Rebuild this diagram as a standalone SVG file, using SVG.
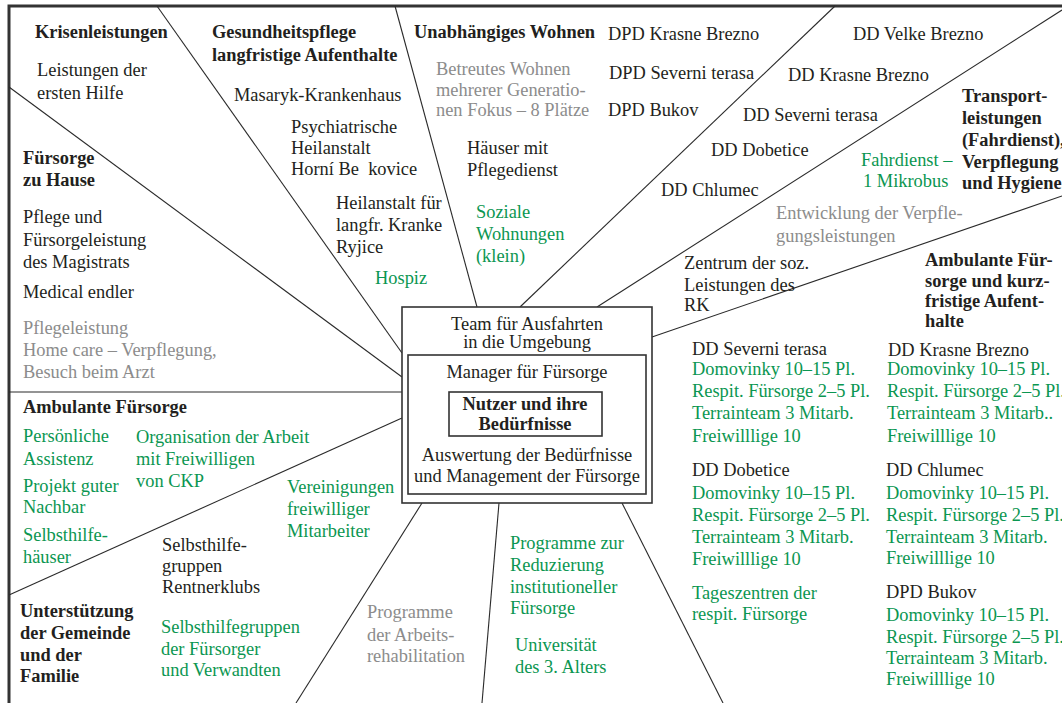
<svg xmlns="http://www.w3.org/2000/svg" width="1062" height="703" viewBox="0 0 1062 703">
  <style>
    text { font-family: "Liberation Serif", "Times New Roman", serif; font-size: 18.4px; fill: #231f20; }
    .b { font-weight: bold; }
    .g { fill: #0b9651; }
    .s { fill: #8c8c8c; }
    .c { text-anchor: middle; }
    .ln { stroke: #2a2a2a; stroke-width: 1.1; fill: none; }
    .frame { stroke: #333; stroke-width: 3; fill: none; }
    .box { stroke: #333; stroke-width: 1.6; fill: #fff; }
  </style>

  <rect width="1062" height="703" fill="#fff"/>

  <!-- outer frame: top and left edges -->
  <path class="frame" d="M9,703 V6 H1062"/>

  <!-- radial dividers between the service sectors -->
  <g id="connectors">
    <line class="ln" x1="157" y1="6" x2="402" y2="353"/>
    <line class="ln" x1="9" y1="87" x2="402" y2="377"/>
    <line class="ln" x1="9" y1="392" x2="402" y2="392"/>
    <line class="ln" x1="402" y1="418" x2="9" y2="595"/>
    <line class="ln" x1="422" y1="503" x2="296" y2="703"/>
    <line class="ln" x1="499" y1="503" x2="482" y2="703"/>
    <line class="ln" x1="622" y1="503" x2="723" y2="703"/>
    <line class="ln" x1="652" y1="337" x2="1062" y2="196"/>
    <line class="ln" x1="597" y1="307" x2="1062" y2="10"/>
    <line class="ln" x1="520" y1="307" x2="835" y2="6"/>
    <line class="ln" x1="477" y1="307" x2="395" y2="6"/>
  </g>

  <!-- central core -->
  <g id="core">
    <rect class="box" x="402" y="307" width="250" height="196"/>
    <rect class="box" x="408" y="355" width="238" height="139"/>
    <rect class="box" x="449" y="392" width="153" height="44"/>
    <text class="c"><tspan x="527" y="330">Team für Ausfahrten</tspan><tspan x="527" y="348">in die Umgebung</tspan></text>
    <text class="c" x="527" y="378">Manager für Fürsorge</text>
    <text class="b c"><tspan x="525" y="410">Nutzer und ihre</tspan><tspan x="525" y="430">Bedürfnisse</tspan></text>
    <text class="c"><tspan x="527" y="461">Auswertung der Bedürfnisse</tspan><tspan x="527" y="482">und Management der Fürsorge</tspan></text>
  </g>

  <g id="krisenleistungen">
    <text class="b" x="35" y="38">Krisenleistungen</text>
    <text><tspan x="37" y="76">Leistungen der</tspan><tspan x="37" y="99">ersten Hilfe</tspan></text>
  </g>

  <g id="gesundheitspflege">
    <text class="b"><tspan x="212" y="38">Gesundheitspflege</tspan><tspan x="212" y="61">langfristige Aufenthalte</tspan></text>
    <text x="234" y="101">Masaryk-Krankenhaus</text>
    <text><tspan x="291" y="133">Psychiatrische</tspan><tspan x="291" y="154">Heilanstalt</tspan><tspan x="291" y="175">Horní Be&#160;&#160;kovice</tspan></text>
    <text><tspan x="336" y="209">Heilanstalt für</tspan><tspan x="336" y="231">langfr. Kranke</tspan><tspan x="336" y="253">Ryjice</tspan></text>
    <text class="g" x="375" y="284">Hospiz</text>
  </g>

  <g id="wohnen">
    <text class="b" x="414" y="38">Unabhängiges Wohnen</text>
    <text class="s"><tspan x="436" y="75">Betreutes Wohnen</tspan><tspan x="436" y="96">mehrerer Generatio-</tspan><tspan x="436" y="116">nen Fokus – 8 Plätze</tspan></text>
    <text><tspan x="467" y="154">Häuser mit</tspan><tspan x="467" y="176">Pflegedienst</tspan></text>
    <text class="g"><tspan x="476" y="218">Soziale</tspan><tspan x="476" y="240">Wohnungen</tspan><tspan x="476" y="262">(klein)</tspan></text>
  </g>

  <g id="dpd">
    <text x="608" y="40">DPD Krasne Brezno</text>
    <text x="609" y="79">DPD Severni terasa</text>
    <text x="608" y="116">DPD Bukov</text>
  </g>

  <g id="dd">
    <text x="853" y="40">DD Velke Brezno</text>
    <text x="788" y="81">DD Krasne Brezno</text>
    <text x="743" y="121">DD Severni terasa</text>
    <text x="711" y="156">DD Dobetice</text>
    <text x="661" y="196">DD Chlumec</text>
  </g>

  <g id="transport">
    <text class="b"><tspan x="962" y="102">Transport-</tspan><tspan x="962" y="124">leistungen</tspan><tspan x="962" y="146">(Fahrdienst),</tspan><tspan x="962" y="168">Verpflegung</tspan><tspan x="962" y="189">und Hygiene</tspan></text>
    <text class="g"><tspan x="861" y="166">Fahrdienst –</tspan><tspan x="863" y="187">1 Mikrobus</tspan></text>
    <text class="s"><tspan x="776" y="219">Entwicklung der Verpfle-</tspan><tspan x="776" y="242">gungsleistungen</tspan></text>
    <text><tspan x="684" y="269">Zentrum der soz.</tspan><tspan x="684" y="291">Leistungen des</tspan><tspan x="684" y="311">RK</tspan></text>
  </g>

  <g id="fuersorge-zu-hause">
    <text class="b"><tspan x="23" y="164">Fürsorge</tspan><tspan x="23" y="186">zu Hause</tspan></text>
    <text><tspan x="23" y="223">Pflege und</tspan><tspan x="23" y="246">Fürsorgeleistung</tspan><tspan x="23" y="268">des Magistrats</tspan></text>
    <text x="23" y="298">Medical endler</text>
    <text class="s"><tspan x="23" y="334">Pflegeleistung</tspan><tspan x="23" y="356">Home care – Verpflegung,</tspan><tspan x="23" y="378">Besuch beim Arzt</tspan></text>
  </g>

  <g id="ambulante-fuersorge">
    <text class="b" x="23" y="413">Ambulante Fürsorge</text>
    <text class="g"><tspan x="23" y="442">Persönliche</tspan><tspan x="23" y="465">Assistenz</tspan></text>
    <text class="g"><tspan x="23" y="492">Projekt guter</tspan><tspan x="23" y="513">Nachbar</tspan></text>
    <text class="g"><tspan x="23" y="541">Selbsthilfe-</tspan><tspan x="23" y="563">häuser</tspan></text>
    <text class="g"><tspan x="136" y="443">Organisation der Arbeit</tspan><tspan x="136" y="465">mit Freiwilligen</tspan><tspan x="136" y="487">von CKP</tspan></text>
    <text class="g"><tspan x="287" y="493">Vereinigungen</tspan><tspan x="287" y="515">freiwilliger</tspan><tspan x="287" y="537">Mitarbeiter</tspan></text>
  </g>

  <g id="gemeinde">
    <text class="b"><tspan x="20" y="617">Unterstützung</tspan><tspan x="20" y="639">der Gemeinde</tspan><tspan x="20" y="661">und der</tspan><tspan x="20" y="682">Familie</tspan></text>
    <text><tspan x="162" y="551">Selbsthilfe-</tspan><tspan x="162" y="572">gruppen</tspan><tspan x="162" y="593">Rentnerklubs</tspan></text>
    <text class="g"><tspan x="161" y="633">Selbsthilfegruppen</tspan><tspan x="161" y="655">der Fürsorger</tspan><tspan x="161" y="676">und Verwandten</tspan></text>
  </g>

  <g id="arbeitsrehabilitation">
    <text class="s"><tspan x="367" y="618">Programme</tspan><tspan x="367" y="641">der Arbeits-</tspan><tspan x="367" y="662">rehabilitation</tspan></text>
  </g>

  <g id="programme">
    <text class="g"><tspan x="510" y="549">Programme zur</tspan><tspan x="510" y="571">Reduzierung</tspan><tspan x="510" y="593">institutioneller</tspan><tspan x="510" y="614">Fürsorge</tspan></text>
    <text class="g"><tspan x="515" y="651">Universität</tspan><tspan x="515" y="673">des 3. Alters</tspan></text>
  </g>

  <g id="ambulante-kurzfristig">
    <text class="b"><tspan x="925" y="266">Ambulante Für-</tspan><tspan x="925" y="287">sorge und kurz-</tspan><tspan x="925" y="307">fristige Aufent-</tspan><tspan x="925" y="327">halte</tspan></text>

    <text x="692" y="355">DD Severni terasa</text>
    <text class="g"><tspan x="692" y="375">Domovinky 10–15 Pl.</tspan><tspan x="692" y="397">Respit. Fürsorge 2–5 Pl.</tspan><tspan x="692" y="419">Terrainteam 3 Mitarb.</tspan><tspan x="692" y="442">Freiwilllige 10</tspan></text>

    <text x="692" y="476">DD Dobetice</text>
    <text class="g"><tspan x="692" y="499">Domovinky 10–15 Pl.</tspan><tspan x="692" y="521">Respit. Fürsorge 2–5 Pl.</tspan><tspan x="692" y="543">Terrainteam 3 Mitarb.</tspan><tspan x="692" y="565">Freiwilllige 10</tspan></text>

    <text class="g"><tspan x="692" y="599">Tageszentren der</tspan><tspan x="692" y="620">respit. Fürsorge</tspan></text>

    <text x="888" y="356">DD Krasne Brezno</text>
    <text class="g"><tspan x="887" y="375">Domovinky 10–15 Pl.</tspan><tspan x="887" y="397">Respit. Fürsorge 2–5 Pl.</tspan><tspan x="887" y="419">Terrainteam 3 Mitarb..</tspan><tspan x="887" y="442">Freiwilllige 10</tspan></text>

    <text x="886" y="476">DD Chlumec</text>
    <text class="g"><tspan x="886" y="499">Domovinky 10–15 Pl.</tspan><tspan x="886" y="521">Respit. Fürsorge 2–5 Pl.</tspan><tspan x="886" y="543">Terrainteam 3 Mitarb.</tspan><tspan x="886" y="564">Freiwilllige 10</tspan></text>

    <text x="886" y="598">DPD Bukov</text>
    <text class="g"><tspan x="886" y="621">Domovinky 10–15 Pl.</tspan><tspan x="886" y="643">Respit. Fürsorge 2–5 Pl.</tspan><tspan x="886" y="664">Terrainteam 3 Mitarb.</tspan><tspan x="886" y="685">Freiwilllige 10</tspan></text>
  </g>
</svg>
